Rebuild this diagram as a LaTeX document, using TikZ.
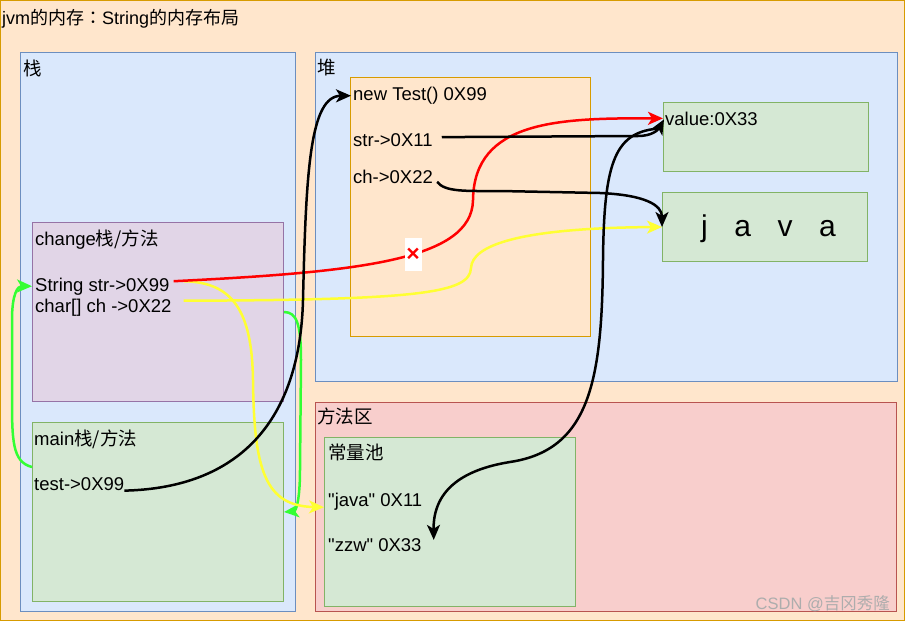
\documentclass[tikz,border=0pt]{standalone}
\usepackage{fontspec}
\setmainfont{Liberation Sans}
\newfontfamily\rawfont{Liberation Sans}
\newfontfamily\cjk{Noto Sans CJK SC}
\newfontfamily\cjkpunct{Noto Sans CJK TC}
\usepackage{xcolor}
\usepackage{tikz}
\usetikzlibrary{arrows.meta,calc}
\definecolor{peachbg}{HTML}{FFE6CC}
\definecolor{peachedge}{HTML}{D79B00}
\definecolor{bluebg}{HTML}{DAE8FC}
\definecolor{blueedge}{HTML}{6C8EBF}
\definecolor{purplebg}{HTML}{E1D5E7}
\definecolor{purpleedge}{HTML}{9673A6}
\definecolor{greenbg}{HTML}{D5E8D4}
\definecolor{greenedge}{HTML}{82B366}
\definecolor{redbg}{HTML}{F8CECC}
\definecolor{rededge}{HTML}{B85450}
\definecolor{yellowlink}{HTML}{FFFF33}
\definecolor{greenlink}{HTML}{33FF33}
\newcommand{\dq}{{\rawfont\symbol{34}}}
\tikzset{
  areabox/.style={line width=1pt,inner sep=0pt,anchor=north west},
  bluearea/.style={areabox,draw=blueedge,fill=bluebg},
  redarea/.style={areabox,draw=rededge,fill=redbg},
  frameobj/.style={areabox,draw=peachedge,fill=peachbg},
  framebox/.style={areabox,draw=purpleedge,fill=purplebg},
  cellbox/.style={areabox,draw=greenedge,fill=greenbg},
  memlabel/.style={anchor=base west,inner sep=0pt,font=\fontsize{18.5}{22}\selectfont},
  titlelabel/.style={anchor=base west,inner sep=0pt,font=\fontsize{18}{22}\selectfont},
  charlabel/.style={anchor=base west,inner sep=0pt,font=\fontsize{30}{34}\selectfont},
  marklabel/.style={anchor=base east,inner sep=0pt,text=black!32,font=\fontsize{16.5}{20}\selectfont},
  crossmark/.style={fill=white,inner sep=0pt,minimum width=17pt,minimum height=33pt,
    text=red,font=\fontsize{23}{24}\selectfont\bfseries},
  linkarrow/.style={-{Stealth[length=15pt,width=13pt,inset=4pt]},line width=2.5pt},
  blackarrow/.style={linkarrow,draw=black},
  redarrow/.style={linkarrow,draw=red},
  yellowarrow/.style={linkarrow,draw=yellowlink},
  greenarrow/.style={linkarrow,draw=greenlink}
}
\begin{document}
\begin{tikzpicture}[x=1pt,y=-1pt]
  \useasboundingbox (0,0) rectangle (905,621);
  \draw[draw=peachedge,fill=peachbg,line width=1pt] (0.5,0.5) rectangle (904.5,620.5);
  % memory areas
  \node[bluearea,minimum width=275pt,minimum height=559pt] (stack) at (20,52) {};
  \node[bluearea,minimum width=582pt,minimum height=329pt] (heap) at (315,52) {};
  \node[redarea,minimum width=581pt,minimum height=209pt] (methodarea) at (315,402) {};
  \node[framebox,minimum width=251pt,minimum height=179pt] (changebox) at (32,222) {};
  \node[cellbox,minimum width=251pt,minimum height=179pt] (mainbox) at (32,422) {};
  \node[frameobj,minimum width=240pt,minimum height=259pt] (testobj) at (350,77) {};
  \node[cellbox,minimum width=205pt,minimum height=69pt] (valuebox) at (663,102) {};
  \node[cellbox,minimum width=205pt,minimum height=69pt] (javabox) at (662,192) {};
  \node[cellbox,minimum width=251pt,minimum height=169pt] (pool) at (324,437) {};
  % texts
  \node[titlelabel] (title) at (2,24.5) {jvm{\cjk 的内存}{\cjkpunct ：}String{\cjk 的内存布局}};
  \node[memlabel] (stacklabel) at (23,75) {\cjk 栈};
  \node[memlabel] (heaplabel) at (317,74) {\cjk 堆};
  \node[memlabel] (newtest) at (353,100.5) {new Test() 0X99};
  \node[memlabel] (heapstr) at (353,146.5) {str->0X11};
  \node[memlabel] (heapch) at (353,183.5) {ch->0X22};
  \node[memlabel] (valuetxt) at (665,125) {value:0X33};
  \node[charlabel] (javatxt) at (701,236.7) {j\hspace{26.5pt}a\hspace{26.5pt}v\hspace{26.5pt}a};
  \node[memlabel] (changetitle) at (35,245) {change{\cjk 栈/方法}};
  \node[memlabel] (strlocal) at (35,291) {String str->0X99};
  \node[memlabel] (chlocal) at (35,312.5) {char[] ch ->0X22};
  \node[memlabel] (maintitle) at (34,445) {main{\cjk 栈/方法}};
  \node[memlabel] (testlocal) at (34,490.5) {test->0X99};
  \node[memlabel] (methodlabel) at (317,423.5) {\cjk 方法区};
  \node[memlabel] (poollabel) at (328,459.5) {\cjk 常量池};
  \node[memlabel] (javalit) at (328,506) {\dq java\dq{} 0X11};
  \node[memlabel] (zzw) at (328,551) {\dq zzw\dq{} 0X33};
  \node[marklabel] (mark) at (890,609) {CSDN @{\cjk 吉冈秀隆}};
  % references
  \draw[greenarrow] ($(mainbox.north west)+(0,45)$) .. controls (12,462) and (12,440) .. (12,395)
    -- (12,320) .. controls (12,293) and (18,286) .. ([xshift=-3pt]strlocal.west);
  \draw[greenarrow] ($(changebox.north east)+(0,90)$) .. controls (297,312) and (301,325) .. (301,360)
    -- (300,470) .. controls (300,500) and (296,511) .. (mainbox.east);
  \draw[yellowarrow] ([xshift=12pt,yshift=7pt]chlocal.east) .. controls (420,300) and (470,293) .. (471,268)
    .. controls (472,245) and (520,228) .. (javabox.west);
  \draw[yellowarrow] ([xshift=14pt,yshift=5pt]strlocal.east) .. controls (232,282) and (252,310) .. (253,380)
    .. controls (254,470) and (265,506) .. ([xshift=-4pt,yshift=-6pt]javalit.west);
  \draw[redarrow] ([xshift=4pt,yshift=5pt]strlocal.east) .. controls (360,272) and (472,260) .. (473,200)
    node[crossmark,pos=0.57] (cancel) {×}
    .. controls (474,120) and (560,118) .. ([xshift=-2pt]valuetxt.west);
  \draw[blackarrow] ([yshift=-6.5pt]testlocal.east) .. controls (240,488) and (300,420) .. (303,300)
    .. controls (306,170) and (310,96) .. ([xshift=-2pt]newtest.west);
  \draw[blackarrow] ([xshift=-4pt,yshift=-10pt]valuetxt.west) .. controls (615,131) and (604,160) .. (603,260)
    .. controls (602,380) and (590,450) .. (510,462)
    .. controls (460,470) and (433,492) .. ([xshift=12pt,yshift=-2pt]zzw.north east);
  \draw[blackarrow] ([xshift=9pt,yshift=3pt]heapstr.east) -- (638,136)
    .. controls (652,136) and (658,130) .. ([xshift=-1pt,yshift=-1pt]valuetxt.west);
  \draw[blackarrow] ([xshift=4pt,yshift=-5pt]heapch.east) .. controls (445,192) and (465,191) .. (500,191)
    -- (600,193) .. controls (645,195) and (662,205) .. (javabox.west);
\end{tikzpicture}
\end{document}
